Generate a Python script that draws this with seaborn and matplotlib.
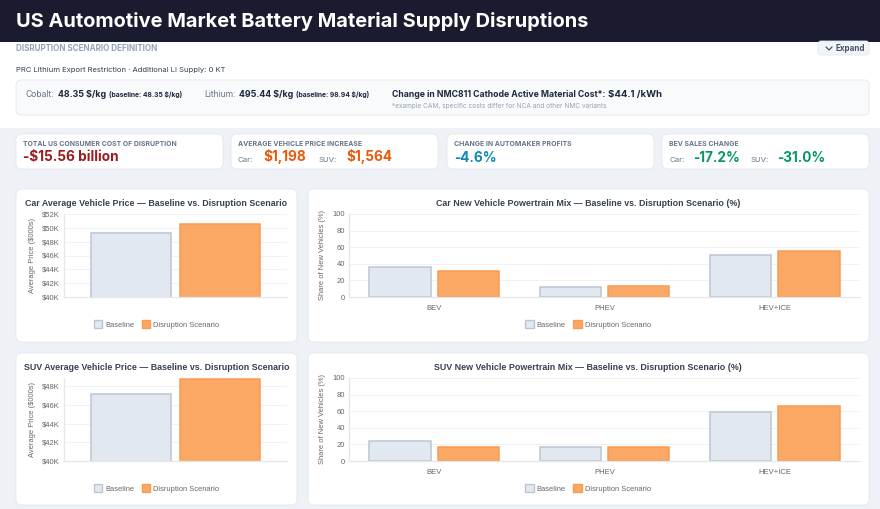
import matplotlib

matplotlib.use("Agg")
import matplotlib.pyplot as plt
import numpy as np
import pandas as pd
import seaborn as sns
from matplotlib.patches import FancyBboxPatch, Patch, Rectangle

sns.set_style("white")
plt.rcParams["font.family"] = ["Liberation Sans", "DejaVu Sans"]

W, H = 880, 509

# data
scenarios = ["Baseline", "Disruption Scenario"]
car_price = [49.3, 50.5]  # $K
suv_price = [47.2, 48.77]  # $K
powertrains = ["BEV", "PHEV", "HEV+ICE"]
car_mix_baseline = [36.2, 12.6, 51.2]
car_mix_disruption = [31.4, 12.8, 55.8]
suv_mix_baseline = [23.8, 16.6, 59.6]
suv_mix_disruption = [17.2, 16.8, 66.0]

fill_colors = {"Baseline": "#e2e8f0", "Disruption Scenario": "#fca865"}
edge_colors = {"Baseline": "#bcc5d1", "Disruption Scenario": "#f99a52"}

UI = ["Inter", "DejaVu Sans"]

fig = plt.figure(figsize=(W / 100, H / 100), dpi=100)
fig.patch.set_facecolor("#eef1f5")

bg = fig.add_axes([0, 0, 1, 1])
bg.set_xlim(0, W)
bg.set_ylim(H, 0)
bg.axis("off")


def card(x0, y0, x1, y1, fc="white", ec="#e3e7ec", r=6, lw=0.6):
    bg.add_patch(FancyBboxPatch((x0, y0), x1 - x0, y1 - y0,
                                boxstyle=f"round,pad=0,rounding_size={r}",
                                fc=fc, ec=ec, lw=lw))


def run(x, y, parts):
    # text pieces set one after another on a shared baseline
    prev = None
    for text, kw, gap in parts:
        if prev is None:
            prev = bg.text(x, y, text, va="baseline", family=UI, **kw)
        else:
            prev = bg.annotate(text, xy=(1, y), xycoords=(prev, "data"), xytext=(gap, 0),
                               textcoords="offset pixels", va="baseline", family=UI, **kw)
    return prev


# header + scenario section
bg.add_patch(Rectangle((0, 0), W, 42, fc="#1a1b2e", ec="none"))
bg.add_patch(Rectangle((0, 42), W, 86, fc="white", ec="none"))
bg.text(16, 21, "US Automotive Market Battery Material Supply Disruptions", color="white",
        fontsize=14.4, fontweight="bold", va="center", family=UI)
bg.text(16, 48, "DISRUPTION SCENARIO DEFINITION", color="#94a3b8", fontsize=5.8,
        fontweight="bold", va="center", family=UI)
card(818, 41, 869, 55, fc="#f1f5f9", ec="#e2e8f0", r=3)
bg.plot([826, 829, 832], [47, 50, 47], color="#475569", lw=0.9)
bg.text(836, 48.5, "Expand", color="#475569", fontsize=5.8, fontweight="bold",
        va="center", family=UI)
bg.text(16, 70, "PRC Lithium Export Restriction · Additional Li Supply: 0 KT", color="#334155",
        fontsize=5.5, va="center", family=UI)
card(16, 80, 869, 115, fc="#f8fafc", ec="#e2e8f0", r=5)

dark = "#1e293b"
grey = "#64748b"
run(26, 97, [("Cobalt:", dict(color=grey, fontsize=6.2), 0),
             ("48.35 $/kg", dict(color=dark, fontsize=6.4, fontweight="bold"), 3),
             ("(baseline: 48.35 $/kg)", dict(color=dark, fontsize=4.9, fontweight="bold"), 3)])
run(204, 97, [("Lithium:", dict(color=grey, fontsize=6.2), 0),
              ("495.44 $/kg", dict(color=dark, fontsize=6.4, fontweight="bold"), 3),
              ("(baseline: 98.94 $/kg)", dict(color=dark, fontsize=4.9, fontweight="bold"), 3)])
run(392, 97, [("Change in NMC811 Cathode Active Material Cost*:", dict(color=dark, fontsize=6.25, fontweight="bold"), 0),
              ("$44.1 /kWh", dict(color=dark, fontsize=6.9, fontweight="bold"), 3)])
bg.text(392, 106, "*example CAM, specific costs differ for NCA and other NMC variants",
        color="#94a3b8", fontsize=4.7, va="center", family=UI)

# KPI cards
kpi_boxes = [(16, 223), (231, 438), (447, 654), (662, 869)]
for x0, x1 in kpi_boxes:
    card(x0, 134, x1, 169)
kpi_labels = ["TOTAL US CONSUMER COST OF DISRUPTION", "AVERAGE VEHICLE PRICE INCREASE",
              "CHANGE IN AUTOMAKER PROFITS", "BEV SALES CHANGE"]
for (x0, _), lab in zip(kpi_boxes, kpi_labels):
    bg.text(x0 + 7, 143.5, lab, color="#64748b", fontsize=4.95, fontweight="bold",
            va="center", family=UI)

red, orange, teal, green = "#9b1c1c", "#ea580c", "#0e89b5", "#059669"
run(23, 161.5, [("-$15.56 billion", dict(color=red, fontsize=9.8, fontweight="bold"), 0)])
run(238, 161.5, [("Car:", dict(color=grey, fontsize=5.6), 0),
                 ("$1,198", dict(color=orange, fontsize=9.8, fontweight="bold"), 10),
                 ("SUV:", dict(color=grey, fontsize=5.6), 12),
                 ("$1,564", dict(color=orange, fontsize=9.8, fontweight="bold"), 10)])
run(454, 161.5, [("-4.6%", dict(color=teal, fontsize=9.8, fontweight="bold"), 0)])
run(669, 161.5, [("Car:", dict(color=grey, fontsize=5.6), 0),
                 ("-17.2%", dict(color=green, fontsize=9.8, fontweight="bold"), 9),
                 ("SUV:", dict(color=grey, fontsize=5.6), 10),
                 ("-31.0%", dict(color=green, fontsize=9.8, fontweight="bold"), 9)])

# chart cards
for y0, y1 in [(189, 342), (353, 505)]:
    card(16, y0, 297, y1)
    card(308, y0, 869, y1)


def px_axes(l, r, t, b):
    return fig.add_axes([l / W, 1 - b / H, (r - l) / W, (b - t) / H])


def style_bars(ax):
    for cont, name in zip(ax.containers, scenarios):
        for bar in cont:
            bar.set_edgecolor(edge_colors[name])
            bar.set_linewidth(1.1)


def style_axes(ax, ylabel, ylabel_x):
    ax.set_facecolor("white")
    for s in ["top", "right"]:
        ax.spines[s].set_visible(False)
    for s in ["left", "bottom"]:
        ax.spines[s].set_color("#e5e7eb")
        ax.spines[s].set_linewidth(0.9)
    ax.yaxis.grid(True, color="#f1f2f4", lw=0.8)
    ax.set_axisbelow(True)
    ax.tick_params(axis="both", length=0, pad=3, labelsize=5.5, labelcolor="#666666")
    ax.set_xlabel("")
    ax.set_ylabel("")
    bbox = ax.get_position()
    fig.text(ylabel_x / W, bbox.y0 + bbox.height / 2, ylabel, rotation=90, ha="center",
             va="center", fontsize=5.4, color="#666666")


def chart_title(cx, y, text):
    bg.text(cx, y, text, ha="center", va="center", fontsize=6.4, fontweight="bold",
            color="#374151")


def chart_legend(cx, y):
    handles = [Patch(fc=fill_colors[n], ec=edge_colors[n], lw=1.0, label=n) for n in scenarios]
    fig.legend(handles=handles, loc="center", bbox_to_anchor=(cx / W, 1 - y / H), ncol=2,
               frameon=False, fontsize=5.4, labelcolor="#666666", handlelength=1.1,
               handleheight=1.1, handletextpad=0.4, columnspacing=1.0)


def price_chart(t, b, values, ymax, ticks, title):
    df = pd.DataFrame({"cat": [""] * len(scenarios), "scenario": scenarios, "price": values})
    ax = px_axes(64, 287, t, b)
    sns.barplot(data=df, x="cat", y="price", hue="scenario", palette=fill_colors,
                saturation=1, width=0.8, gap=0.1, legend=False, ax=ax)
    style_bars(ax)
    ax.set_ylim(40, ymax)
    ax.set_yticks(ticks)
    ax.set_yticklabels([f"${v:.0f}K" for v in ticks])
    ax.set_xticks([])
    style_axes(ax, "Average Price ($000s)", 32)
    chart_title(156.5, t - 10, title)
    chart_legend(156.5, b + 27.5)


def mix_chart(t, b, base, disr, title):
    df = pd.DataFrame({"powertrain": powertrains * 2,
                       "scenario": [scenarios[0]] * 3 + [scenarios[1]] * 3,
                       "share": base + disr})
    ax = px_axes(349, 860, t, b)
    sns.barplot(data=df, x="powertrain", y="share", hue="scenario", palette=fill_colors,
                saturation=1, width=0.8, gap=0.1, legend=False, ax=ax)
    style_bars(ax)
    ax.set_ylim(0, 100)
    ax.set_yticks(range(0, 101, 20))
    ax.set_xlim(-0.5, 2.5)
    style_axes(ax, "Share of New Vehicles (%)", 322)
    ax.tick_params(axis="x", pad=6)
    chart_title(588, t - 10, title)
    chart_legend(588, b + 27.5)


price_chart(214, 297, car_price, 52, np.arange(40, 53, 2),
            "Car Average Vehicle Price — Baseline vs. Disruption Scenario")
mix_chart(214, 297, car_mix_baseline, car_mix_disruption,
          "Car New Vehicle Powertrain Mix — Baseline vs. Disruption Scenario (%)")
price_chart(378, 461, suv_price, 48.9, np.arange(40, 49, 2),
            "SUV Average Vehicle Price — Baseline vs. Disruption Scenario")
mix_chart(378, 461, suv_mix_baseline, suv_mix_disruption,
          "SUV New Vehicle Powertrain Mix — Baseline vs. Disruption Scenario (%)")

fig.savefig("out.png", dpi=100)
